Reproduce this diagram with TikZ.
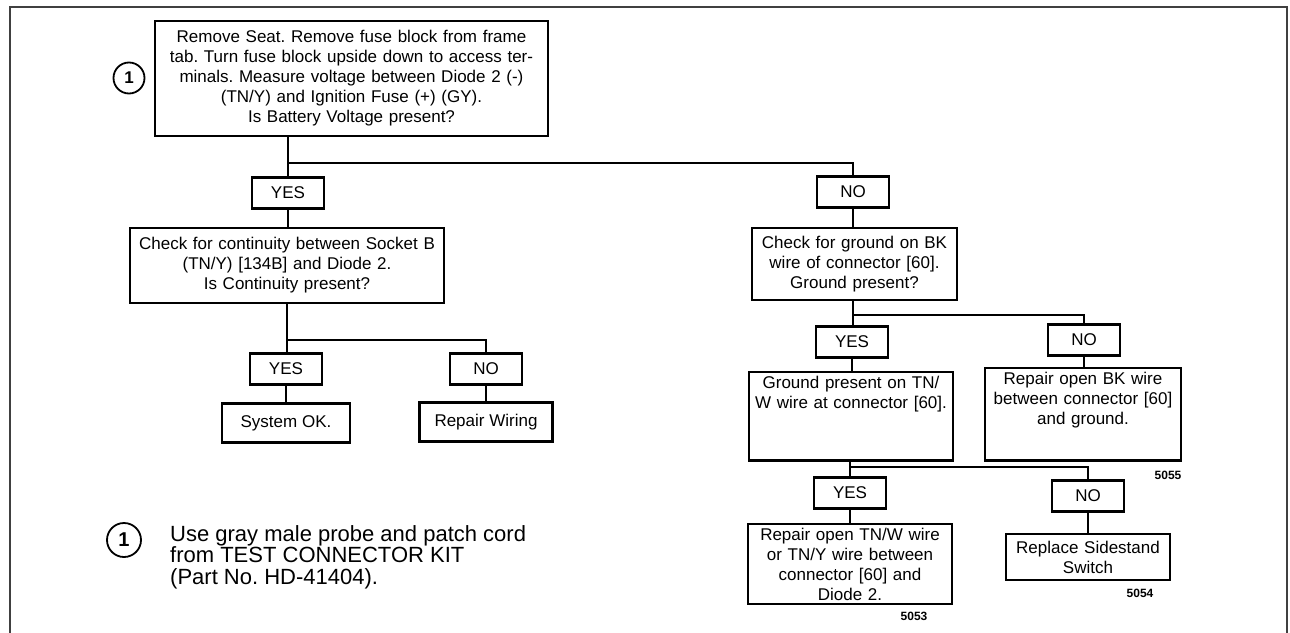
\documentclass[tikz,border=0pt]{standalone}
\usepackage{fontspec}
\setmainfont{Liberation Sans}
\frenchspacing
\usetikzlibrary{positioning}

\begin{document}
\begin{tikzpicture}[
  x=1pt, y=-1pt,
  tbox/.style={rectangle, draw=black, line width=2.2pt, fill=white, align=center,
               inner sep=4pt, font=\fontsize{17}{20}\selectfont},
  ansbox/.style={tbox, minimum width=72pt, minimum height=31pt, inner sep=2pt},
  wire/.style={line width=2.2pt},
  note/.style={circle, draw=black, line width=1.8pt, inner sep=0pt,
               minimum size=31pt, font=\bfseries\fontsize{17}{20}\selectfont},
  fig/.style={font=\bfseries\fontsize{12}{14}\selectfont}
]
\useasboundingbox (0,0) rectangle (1290,632);

% --- frame ---
\draw[line width=2.4pt, black!75] (10,640) |- (1287,7) -- (1287,640);

% --- first test ---
\node[tbox, minimum width=393pt, minimum height=115pt, text width=383pt] (top) at (351.5,78.5)
  {Remove Seat. Remove fuse block from frame\\
   tab. Turn fuse block upside down to access ter-\\
   minals. Measure voltage between Diode 2 (-)\\
   (TN/Y) and Ignition Fuse (+) (GY).\\
   Is Battery Voltage present?};
\node[note] (ref1) at (129,78) {1};

\coordinate (split1) at (288,163);
\node[ansbox] (yes1) at (288,193) {YES};
\node[ansbox] (no1)  at (853,192) {NO};

% --- left branch ---
\node[tbox, minimum width=314pt, minimum height=75pt, text width=306pt] (chk1) at (287,265.5)
  {Check for continuity between Socket B\\
   (TN/Y) [134B] and Diode 2.\\
   Is Continuity present?};
\coordinate (split2) at (287,340);
\node[ansbox] (yes2) at (286,369) {YES};
\node[ansbox] (no2)  at (486,369) {NO};
\node[tbox, minimum width=128pt, minimum height=39pt] (ok)     at (286,423) {System OK.};
\node[tbox, minimum width=133pt, minimum height=39pt] (wiring) at (486,422) {Repair Wiring};

% --- right branch ---
\node[tbox, minimum width=205pt, minimum height=72pt, text width=197pt] (chk2) at (854.5,264)
  {Check for ground on BK\\
   wire of connector [60].\\
   Ground present?};
\coordinate (split3) at (853,315);
\node[ansbox] (yes3) at (852,342) {YES};
\node[ansbox] (no3)  at (1084,340) {NO};
\node[tbox, anchor=north, minimum width=204pt, text width=196pt, text depth=68pt] (gnd) at (851,371)
  {Ground present on TN/\\
   W wire at connector [60].};
\node[tbox, anchor=north, minimum width=196pt, text width=188pt, text depth=72pt] (bk) at (1083,367)
  {Repair open BK wire\\
   between connector [60]\\
   and ground.};
\node[fig] (f5055) at (1168,475) {5055};

\coordinate (split4) at (850,467);
\node[ansbox] (yes4) at (850,493) {YES};
\node[ansbox] (no4)  at (1088,496) {NO};
\node[tbox, minimum width=204pt, minimum height=78pt, text width=196pt] (tnw) at (850,564)
  {Repair open TN/W wire\\
   or TN/Y wire between\\
   connector [60] and\\
   Diode 2.};
\node[tbox, minimum width=164pt, minimum height=46pt, text width=156pt] (repl) at (1088,557)
  {Replace Sidestand\\
   Switch};
\node[fig] (f5053) at (914,616) {5053};
\node[fig] (f5054) at (1140,593) {5054};

% --- connectors ---
\draw[wire] (top.south -| split1) -- (yes1.north);
\draw[wire] (split1) -| (no1.north);
\draw[wire] (yes1) -- (yes1 |- chk1.north);
\draw[wire] (no1) -- (no1 |- chk2.north);

\draw[wire] (chk1.south -| split2) -- (yes2.north -| split2);
\draw[wire] (split2) -| (no2.north);
\draw[wire] (yes2) -- (ok);
\draw[wire] (no2) -- (wiring);

\draw[wire] (chk2.south -| split3) -- (yes3.north -| split3);
\draw[wire] (split3) -| (no3.north);
\draw[wire] (yes3) -- (yes3 |- gnd.north);
\draw[wire] (no3) -- (no3 |- bk.north);

\draw[wire] (gnd.south -| split4) -- (yes4.north);
\draw[wire] (split4) -| (no4.north);
\draw[wire] (yes4) -- (yes4 |- tnw.north);
\draw[wire] (no4) -- (no4 |- repl.north);

% --- footnote ---
\node[note, minimum size=34pt, font=\bfseries\fontsize{20}{22}\selectfont] (ref2) at (124,540) {1};
\node[anchor=north west, align=left, inner sep=0pt,
      font=\fontsize{22}{21.5}\selectfont] (hint) at (170,525)
  {Use gray male probe and patch cord\\
   from TEST CONNECTOR KIT\\
   (Part No. HD-41404).};
\end{tikzpicture}
\end{document}
